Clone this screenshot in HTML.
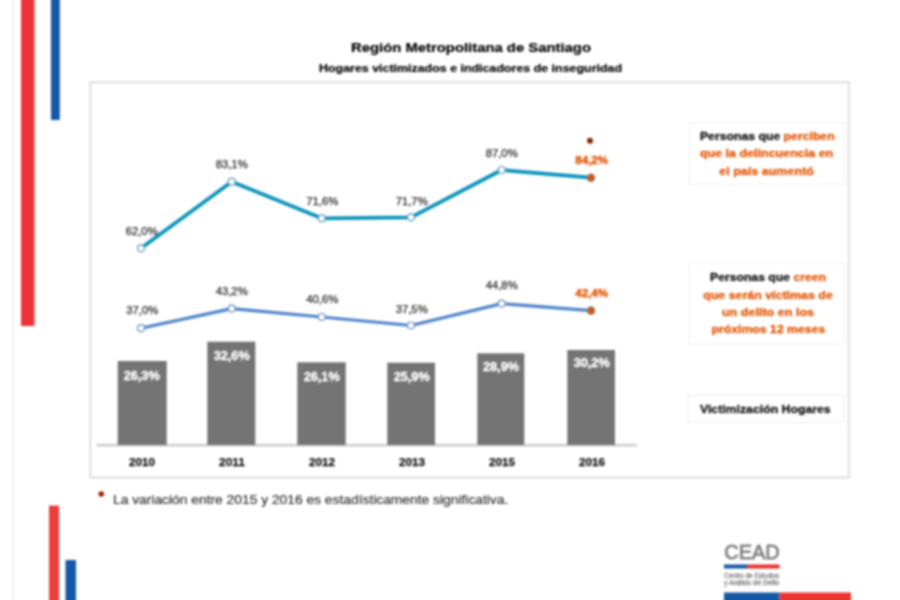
<!DOCTYPE html>
<html lang="es">
<head>
<meta charset="utf-8">
<title>Región Metropolitana de Santiago</title>
<style>
html,body{margin:0;padding:0;background:#fff;}
body{width:900px;height:600px;overflow:hidden;}
svg{display:block;font-family:"Liberation Sans","DejaVu Sans",sans-serif;}
.b{font-weight:bold;}
#all{stroke-width:0.4px;stroke-linejoin:round;}
.ttl{fill:#000;stroke:#000;stroke-width:0.2px;}
.lab{font-size:10.8px;fill:#2a2a2a;stroke:#2a2a2a;stroke-width:0.25px;text-anchor:middle;}
.olab{font-weight:bold;font-size:11.6px;fill:#e45400;stroke:#e45400;text-anchor:middle;}
.wlab{font-weight:bold;font-size:12.4px;fill:#fff;stroke:#fff;text-anchor:middle;}
.yr{font-weight:bold;font-size:10.6px;fill:#111;stroke:#111;stroke-width:0.25px;text-anchor:middle;}
.lg{font-weight:bold;font-size:11.8px;text-anchor:middle;stroke-width:0.3px;}
.dk{fill:#111;stroke:#111;}
.or{fill:#e45400;stroke:#e45400;}
.fn{fill:#333;stroke:#333;stroke-width:0.2px;}
.gy{fill:#858585;stroke:#858585;stroke-width:0.3px;}
.cead{stroke-width:0.9px;}
</style>
</head>
<body>
<svg width="900" height="600" viewBox="0 0 900 600">
<defs><filter id="bl" color-interpolation-filters="sRGB" filterUnits="userSpaceOnUse" x="-30" y="-30" width="960" height="660"><feGaussianBlur stdDeviation="0.9"/></filter></defs>
<g id="all" filter="url(#bl)">
  <rect x="-30" y="-30" width="960" height="660" fill="#ffffff"/>
  <!-- page edge -->
  <rect x="12.3" y="-20" width="2" height="640" fill="#f2f2f2"/>
  <!-- decorative bars -->
  <rect x="21" y="-20" width="13.5" height="346" fill="#ee3338"/>
  <rect x="51" y="-20" width="8.8" height="140" fill="#1458a6"/>
  <rect x="49" y="505.6" width="10" height="115" fill="#ee3b3b"/>
  <rect x="65.5" y="560" width="10.5" height="61" fill="#1458a6"/>

  <!-- titles -->
  <text x="471" y="51.8" class="b ttl" font-size="13.6" text-anchor="middle" textLength="240" lengthAdjust="spacingAndGlyphs">Región Metropolitana de Santiago</text>
  <text x="470.5" y="72.2" class="b ttl" font-size="11.5" text-anchor="middle" textLength="303" lengthAdjust="spacingAndGlyphs">Hogares victimizados e indicadores de inseguridad</text>

  <!-- chart frame -->
  <rect x="90.2" y="82.3" width="758.8" height="395.2" fill="#fff" stroke="#e3e3e3" stroke-width="2.4"/>

  <!-- legend boxes -->
  <rect x="689.5" y="122.5" width="155.5" height="62" fill="#fff" stroke="#f0f0f0" stroke-width="1"/>
  <rect x="689.5" y="263" width="155.5" height="80.5" fill="#fff" stroke="#f0f0f0" stroke-width="1"/>
  <rect x="688" y="395.5" width="156" height="27" fill="#fff" stroke="#dcdcdc" stroke-width="1" stroke-dasharray="2 2"/>

  <text class="lg" x="767.3" y="140" textLength="134.7" lengthAdjust="spacingAndGlyphs"><tspan class="dk">Personas que </tspan><tspan class="or">perciben</tspan></text>
  <text class="lg or" x="766.6" y="157.3" textLength="133.3" lengthAdjust="spacingAndGlyphs">que la delincuencia en</text>
  <text class="lg or" x="766.6" y="174.6" textLength="94.8" lengthAdjust="spacingAndGlyphs">el país aumentó</text>

  <text class="lg" x="768" y="281.4" textLength="116" lengthAdjust="spacingAndGlyphs"><tspan class="dk">Personas que </tspan><tspan class="or">creen</tspan></text>
  <text class="lg or" x="768" y="298.7" textLength="129.6" lengthAdjust="spacingAndGlyphs">que serán víctimas de</text>
  <text class="lg or" x="768" y="316" textLength="92.1" lengthAdjust="spacingAndGlyphs">un delito en los</text>
  <text class="lg or" x="768.4" y="333.4" textLength="113.8" lengthAdjust="spacingAndGlyphs">próximos 12 meses</text>

  <text class="lg dk" x="765.3" y="413.3" textLength="130.7" lengthAdjust="spacingAndGlyphs">Victimización Hogares</text>

  <!-- axis -->
  <rect x="96.5" y="443.8" width="540.5" height="2.8" fill="#d0d0d0"/>

  <!-- bars -->
  <g fill="#747474">
    <rect x="117.7" y="361" width="49" height="84"/>
    <rect x="207.3" y="341.7" width="48" height="103.3"/>
    <rect x="297.3" y="362.3" width="48.4" height="82.7"/>
    <rect x="387.3" y="362.7" width="47.7" height="82.3"/>
    <rect x="477.3" y="353.3" width="47" height="91.7"/>
    <rect x="567.3" y="350" width="47.7" height="95"/>
  </g>
  <g class="wlab">
    <text x="141.7" y="380" textLength="36" lengthAdjust="spacingAndGlyphs">26,3%</text>
    <text x="231.7" y="360" textLength="36" lengthAdjust="spacingAndGlyphs">32,6%</text>
    <text x="321.7" y="380.7" textLength="36" lengthAdjust="spacingAndGlyphs">26,1%</text>
    <text x="411.7" y="381.3" textLength="36" lengthAdjust="spacingAndGlyphs">25,9%</text>
    <text x="501" y="371.3" textLength="36" lengthAdjust="spacingAndGlyphs">28,9%</text>
    <text x="591.7" y="367.3" textLength="36" lengthAdjust="spacingAndGlyphs">30,2%</text>
  </g>
  <g class="yr">
    <text x="142" y="465.8" textLength="26" lengthAdjust="spacingAndGlyphs">2010</text>
    <text x="232" y="465.8" textLength="26" lengthAdjust="spacingAndGlyphs">2011</text>
    <text x="322" y="465.8" textLength="26" lengthAdjust="spacingAndGlyphs">2012</text>
    <text x="412" y="465.8" textLength="26" lengthAdjust="spacingAndGlyphs">2013</text>
    <text x="502" y="465.8" textLength="26" lengthAdjust="spacingAndGlyphs">2015</text>
    <text x="592" y="465.8" textLength="26" lengthAdjust="spacingAndGlyphs">2016</text>
  </g>

  <!-- lower line -->
  <polyline points="141,328.2 231.7,308.6 321.7,317 411,325.5 501.7,303.6 591,310.6" fill="none" stroke="#4f84cc" stroke-width="3.2" stroke-linejoin="round"/>
  <g fill="#fff" stroke="#6a8cc0" stroke-width="1.2">
    <circle cx="141" cy="328.2" r="3.5"/>
    <circle cx="231.7" cy="308.6" r="3.5"/>
    <circle cx="321.7" cy="317" r="3.5"/>
    <circle cx="411" cy="325.5" r="3.5"/>
    <circle cx="501.7" cy="303.6" r="3.5"/>
  </g>
  <circle cx="591" cy="310.6" r="3.7" fill="#e24e04" stroke="#7d8a84" stroke-width="1.2"/>

  <!-- upper line -->
  <polyline points="141,248.3 231.7,181.7 321.7,218.3 411,217.3 501.7,170 591,177.7" fill="none" stroke="#0b93bd" stroke-width="3.7" stroke-linejoin="round"/>
  <g fill="#fff" stroke="#5a9ab8" stroke-width="1.2">
    <circle cx="141" cy="248.3" r="3.5"/>
    <circle cx="231.7" cy="181.7" r="3.5"/>
    <circle cx="321.7" cy="218.3" r="3.5"/>
    <circle cx="411" cy="217.3" r="3.5"/>
    <circle cx="501.7" cy="170" r="3.5"/>
  </g>
  <circle cx="591" cy="177.7" r="3.7" fill="#e24e04" stroke="#7d8a84" stroke-width="1.2"/>

  <!-- data labels -->
  <g class="lab">
    <text x="141.7" y="234.9" textLength="32" lengthAdjust="spacingAndGlyphs">62,0%</text>
    <text x="231.7" y="168.4" textLength="32" lengthAdjust="spacingAndGlyphs">83,1%</text>
    <text x="322.3" y="205.2" textLength="32" lengthAdjust="spacingAndGlyphs">71,6%</text>
    <text x="411.7" y="205.2" textLength="32" lengthAdjust="spacingAndGlyphs">71,7%</text>
    <text x="501.7" y="156.9" textLength="32" lengthAdjust="spacingAndGlyphs">87,0%</text>
    <text x="142.3" y="314.2" textLength="32" lengthAdjust="spacingAndGlyphs">37,0%</text>
    <text x="231.7" y="295.2" textLength="32" lengthAdjust="spacingAndGlyphs">43,2%</text>
    <text x="322.3" y="303.4" textLength="32" lengthAdjust="spacingAndGlyphs">40,6%</text>
    <text x="411.7" y="312.9" textLength="32" lengthAdjust="spacingAndGlyphs">37,5%</text>
    <text x="501.7" y="289.4" textLength="32" lengthAdjust="spacingAndGlyphs">44,8%</text>
  </g>
  <g class="olab">
    <text x="591.7" y="164.1" textLength="33" lengthAdjust="spacingAndGlyphs">84,2%</text>
    <text x="591.7" y="296.6" textLength="33" lengthAdjust="spacingAndGlyphs">42,4%</text>
  </g>
  <circle cx="590" cy="140.7" r="3" fill="#8c2206"/>

  <!-- footnote -->
  <circle cx="101.3" cy="494" r="2.8" fill="#9a2408"/>
  <text x="113" y="503.5" class="fn" font-size="12.6" textLength="395.3" lengthAdjust="spacingAndGlyphs">La variación entre 2015 y 2016 es estadísticamente significativa.</text>

  <!-- CEAD logo -->
  <text x="724.3" y="559" class="gy cead" font-size="21" textLength="55.5" lengthAdjust="spacingAndGlyphs">CEAD</text>
  <rect x="724" y="564.5" width="23" height="4" fill="#1458a6"/>
  <rect x="747" y="564.5" width="32.6" height="4" fill="#e8302c"/>
  <text x="724.3" y="577.5" class="gy" font-size="6.4" textLength="55" lengthAdjust="spacingAndGlyphs">Centro de Estudios</text>
  <text x="724.3" y="584.6" class="gy" font-size="6.4" textLength="55" lengthAdjust="spacingAndGlyphs">y Análisis del Delito</text>
  <rect x="724" y="592.5" width="55.5" height="28" fill="#1458a6"/>
  <rect x="779.5" y="592.5" width="71.5" height="28" fill="#ee342e"/>
</g>
</svg>
</body>
</html>
